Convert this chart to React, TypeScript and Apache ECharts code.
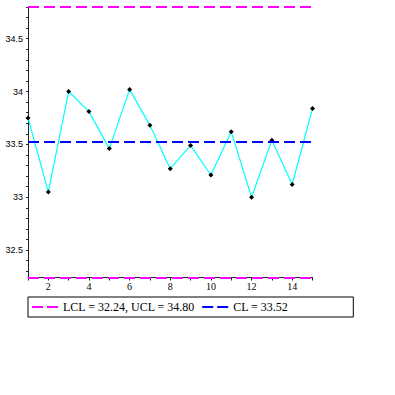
import React, { useEffect, useRef } from "react";
import * as echarts from "echarts";

const samples = [1, 2, 3, 4, 5, 6, 7, 8, 9, 10, 11, 12, 13, 14, 15];
const values = [33.75, 33.05, 34.0, 33.81, 33.46, 34.02, 33.68, 33.27, 33.49, 33.21, 33.62, 33.0, 33.54, 33.12, 33.84];
const LCL = 32.24;
const UCL = 34.8;
const CL = 33.52;
const yLabelValues = [32.5, 33, 33.5, 34, 34.5];
const yTickValues = [32.3, 32.4, 32.5, 32.6, 32.7, 32.8, 32.9, 33.0, 33.1, 33.2, 33.3, 33.4, 33.5, 33.6, 33.7, 33.8, 33.9, 34.0, 34.1, 34.2, 34.3, 34.4, 34.5, 34.6, 34.7, 34.8];
const limitsName = "LCL = 32.24, UCL = 34.80";
const centerName = "CL = 33.52";

const dashIcon = "path://M0,0H11V2H0Z M15,0H26V2H15Z";

export default function App() {
  const ref = useRef<HTMLDivElement>(null);
  useEffect(() => {
    if (!ref.current) return;
    const chart = echarts.init(ref.current, undefined, { renderer: "svg" });
    chart.setOption({
      animation: false,
      backgroundColor: "#fff",
      grid: { left: 28, right: 82.5, top: 7, bottom: 117.5, containLabel: false },
      legend: {
        left: 28,
        top: 297,
        orient: "horizontal",
        borderColor: "#000",
        borderWidth: 1,
        padding: [3, 65, 3, 4],
        itemWidth: 26,
        itemHeight: 2,
        itemGap: 7,
        textStyle: { fontFamily: "Liberation Serif", fontSize: 12, color: "#000", lineHeight: 14 },
        data: [
          { name: limitsName, icon: dashIcon },
          { name: centerName, icon: dashIcon },
        ],
      },
      xAxis: {
        type: "value",
        min: 1,
        max: 15,
        interval: 1,
        axisLine: { show: true, lineStyle: { color: "#222", width: 1 } },
        axisTick: { show: true, length: 3, lineStyle: { color: "#222" } },
        axisLabel: {
          fontFamily: "Liberation Serif",
          fontSize: 10,
          color: "#000",
          margin: 4,
          formatter: (v: number) => (v % 2 === 0 ? String(v) : ""),
        },
        splitLine: { show: false },
      },
      yAxis: {
        type: "value",
        min: LCL,
        max: UCL,
        axisLine: { show: true, lineStyle: { color: "#222", width: 1 } },
        axisTick: { show: true, length: 2, customValues: yTickValues, lineStyle: { color: "#222" } },
        axisLabel: {
          fontFamily: "Liberation Sans",
          fontSize: 9,
          color: "#000",
          margin: 5,
          customValues: yLabelValues,
        },
        splitLine: { show: false },
      },
      series: [
        {
          name: "data",
          type: "line",
          data: samples.map((s, i) => [s, values[i]]),
          lineStyle: { color: "#00FFFF", width: 1.2 },
          itemStyle: { color: "#000" },
          symbol: "diamond",
          symbolSize: 5,
          showAllSymbol: true,
          z: 3,
        },
        {
          name: limitsName,
          type: "line",
          data: [],
          itemStyle: { color: "#FF00FF" },
          lineStyle: { color: "#FF00FF" },
          markLine: {
            silent: true,
            symbol: ["none", "none"],
            label: { show: false },
            lineStyle: { color: "#FF00FF", width: 2, type: [11, 5] },
            data: [{ yAxis: LCL }, { yAxis: UCL }],
          },
        },
        {
          name: centerName,
          type: "line",
          data: [],
          itemStyle: { color: "#0000FF" },
          lineStyle: { color: "#0000FF" },
          markLine: {
            silent: true,
            symbol: ["none", "none"],
            label: { show: false },
            lineStyle: { color: "#0000FF", width: 2, type: [11, 5] },
            data: [{ yAxis: CL }],
          },
        },
      ],
    });
    return () => chart.dispose();
  }, []);
  return (
    <div
      ref={ref}
      style={{ position: "fixed", left: 0, top: 0, width: 395, height: 395, background: "#fff" }}
    />
  );
}
